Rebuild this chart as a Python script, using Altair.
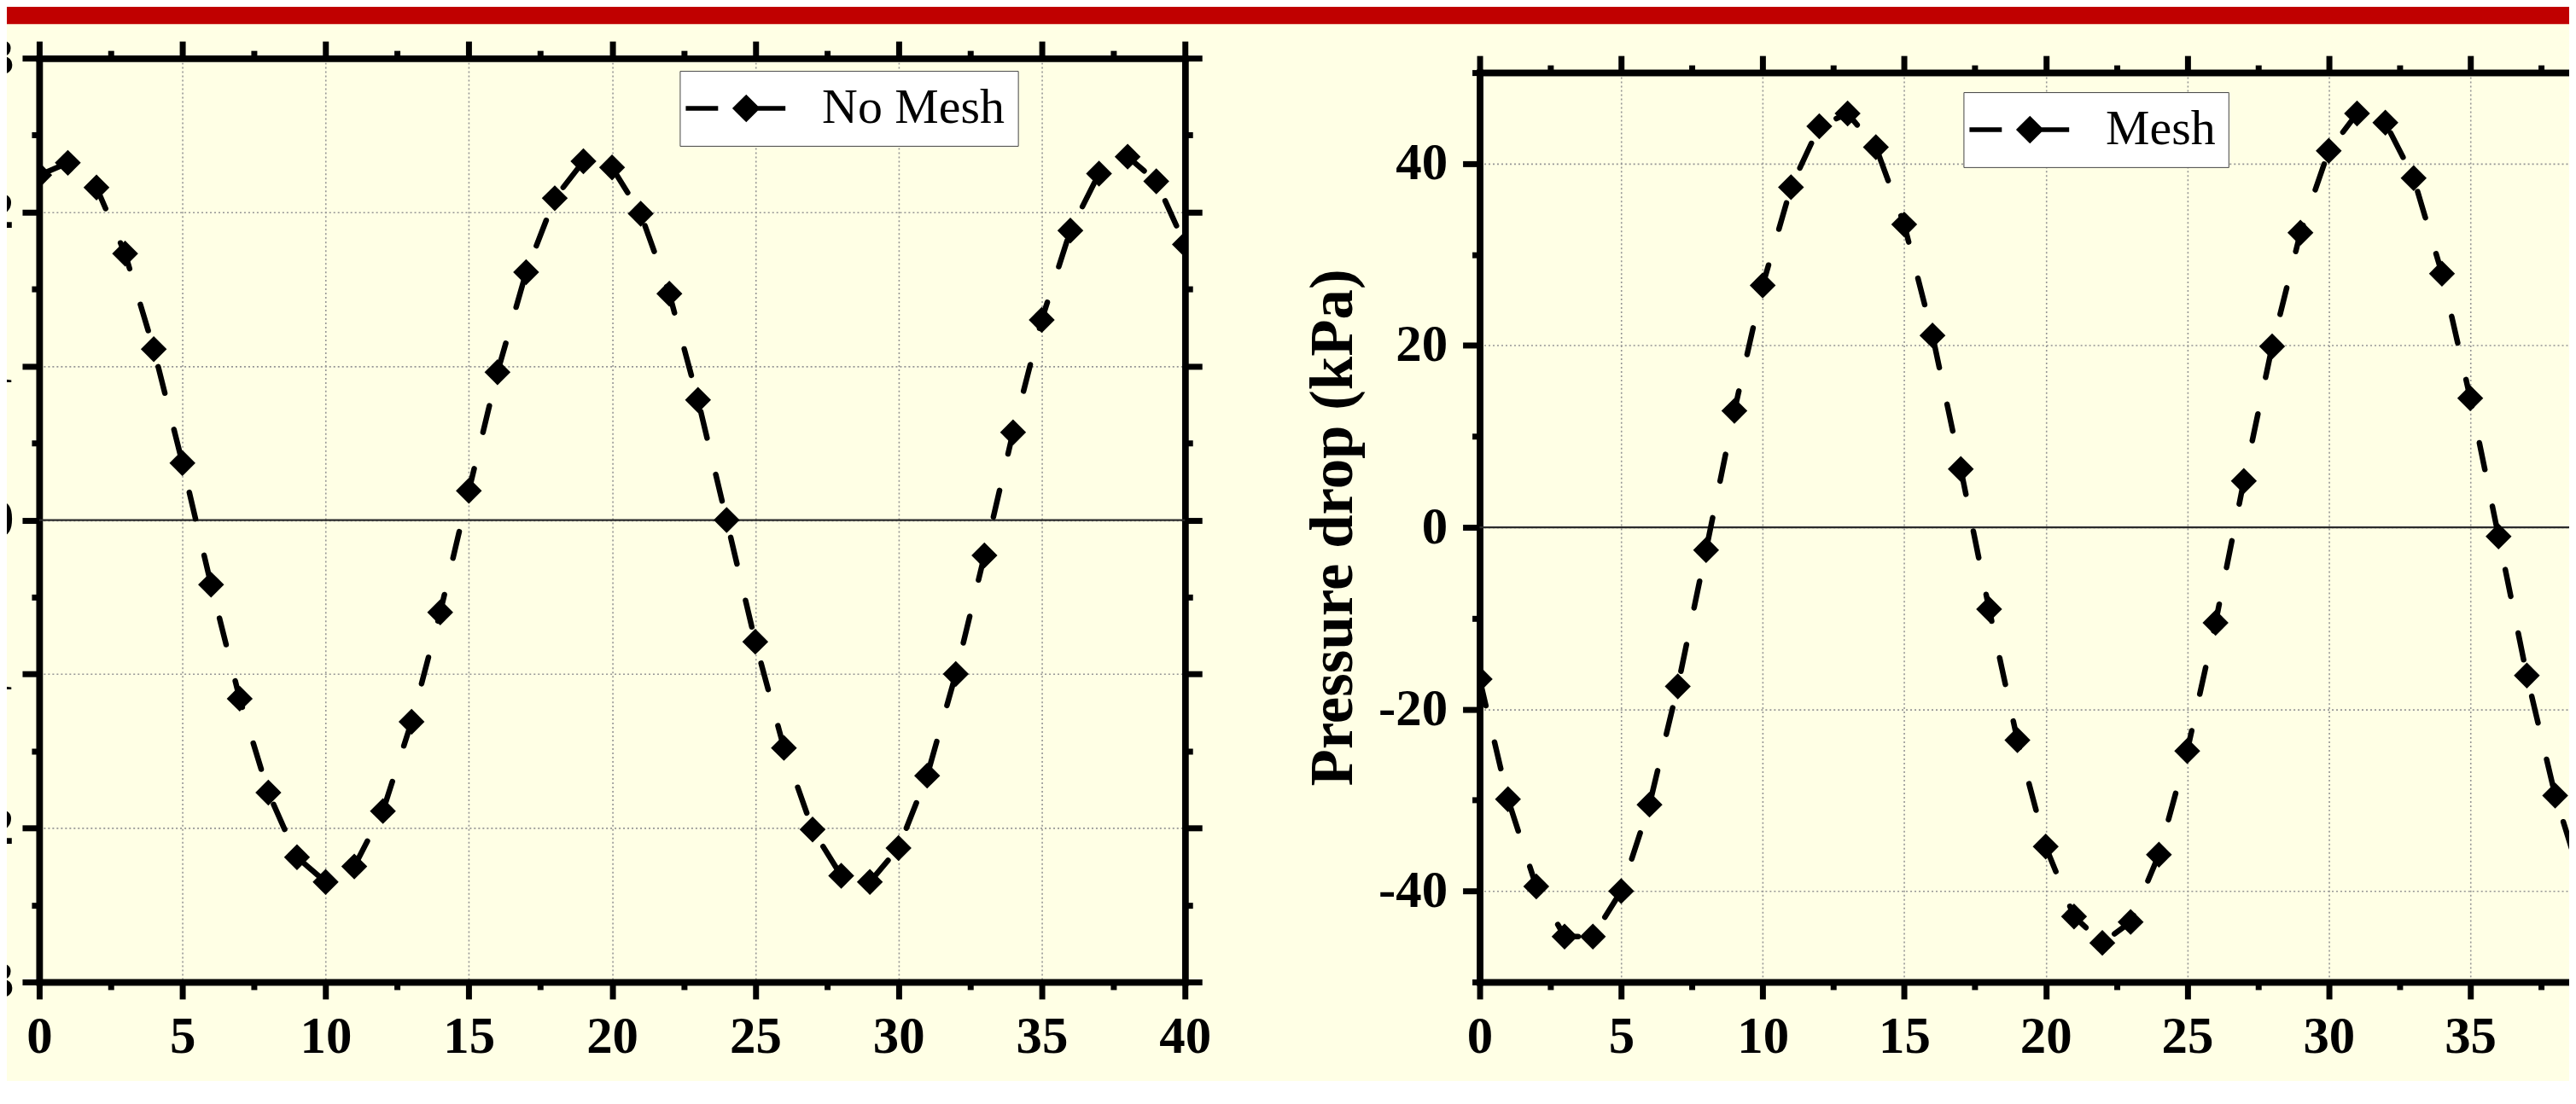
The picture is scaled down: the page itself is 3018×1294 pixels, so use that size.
import altair as alt
import pandas as pd

# ---------------- data ----------------
time_s = list(range(41))
no_mesh = [2.24, 2.32, 2.16, 1.73, 1.11, 0.37, -0.42, -1.16, -1.77, -2.19,
           -2.35, -2.25, -1.89, -1.31, -0.60, 0.19, 0.96, 1.61, 2.09, 2.33,
           2.29, 1.99, 1.47, 0.78, 0.00, -0.79, -1.48, -2.01, -2.31, -2.35,
           -2.13, -1.66, -1.00, -0.23, 0.57, 1.30, 1.88, 2.25, 2.36, 2.20, 1.79]
mesh = [-16.7, -29.9, -39.5, -45.0, -45.0, -40.0, -30.5, -17.5, -2.5, 12.8,
        26.6, 37.4, 44.1, 45.5, 41.8, 33.3, 21.1, 6.4, -9.0, -23.4,
        -35.1, -42.8, -45.7, -43.4, -36.0, -24.6, -10.5, 5.1, 19.9, 32.4,
        41.4, 45.5, 44.5, 38.4, 27.9, 14.2, -1.0, -16.3, -29.5, -39.5, -45.0]

series_left = "No Mesh"
series_right = "Mesh"
y_title_right = "Pressure drop (kPa)"

x_major = [0, 5, 10, 15, 20, 25, 30, 35, 40]
x_minor = [2.5, 7.5, 12.5, 17.5, 22.5, 27.5, 32.5, 37.5]
left_y_major = [-3, -2, -1, 0, 1, 2, 3]
left_y_minor = [-2.5, -1.5, -0.5, 0.5, 1.5, 2.5]
right_y_major = [-40, -20, 0, 20, 40]
right_y_minor = [-50, -30, -10, 10, 30, 50]

df_left = pd.DataFrame({"t": time_s, "v": no_mesh, "series": series_left})
df_right = pd.DataFrame({"t": time_s, "v": mesh, "series": series_right})
df_zero = pd.DataFrame({"v": [0]})
df_dummy = pd.DataFrame({"a": [0]})

FONT = "Liberation Serif"
BG = "#FFFFE5"
SYMBOL = "M-5.46,0L-2.54,0M-0.96,0L0,-0.96L0.96,0L0,0.96ZM0.96,0L3.54,0"


def make_axis(orient, values, size, labels=False, grid=False, **kw):
    d = dict(orient=orient, values=values, tickSize=size, tickWidth=7,
             tickColor="black", domain=True, domainColor="black",
             domainWidth=7.5, domainCap="square", labels=labels, grid=grid,
             ticks=True, title=None)
    if labels:
        d.update(labelFont=FONT, labelFontSize=61, labelFontWeight="bold",
                 labelColor="black", labelFlush=False, labelOverlap=False,
                 labelExpr="datum.value + ''")
    if grid:
        d.update(gridColor="#959595", gridDash=[2, 3], gridWidth=1.6)
    d.update(kw)
    return alt.Axis(**d)


def panel(df, ydom, ymaj, ymin, w, h, lx, ly, ylabpad, ytitle=None, red_bar=False):
    xs = alt.Scale(domain=[0, 40], nice=False, zero=False)
    ys = alt.Scale(domain=ydom, nice=False, zero=False)
    base = alt.Chart(df)

    def enc(xa, ya):
        return dict(x=alt.X("t:Q", scale=xs, axis=xa),
                    y=alt.Y("v:Q", scale=ys, axis=ya))

    ykw = {}
    if ytitle:
        ykw = dict(title=ytitle, titleFont=FONT, titleFontSize=71,
                   titleFontWeight="bold", titleColor="black", titleAngle=270,
                   titleX=-150, titleY=h / 2, titleAlign="center",
                   titleBaseline="alphabetic")

    main_axes = enc(make_axis("bottom", x_major, 20, labels=True, grid=True, labelPadding=15),
                    make_axis("left", ymaj, 20, labels=True, grid=True,
                              labelPadding=ylabpad, **ykw))
    minor_bl = enc(make_axis("bottom", x_minor, 9), make_axis("left", ymin, 9))
    major_tr = enc(make_axis("top", x_major, 20), make_axis("right", ymaj, 20))
    minor_tr = enc(make_axis("top", x_minor, 9), make_axis("right", ymin, 9))

    l_axes = base.mark_point(opacity=0).encode(**main_axes)
    l_bl = base.mark_point(opacity=0).encode(**minor_bl)
    l_tr = base.mark_point(opacity=0).encode(**major_tr)
    l_trm = base.mark_point(opacity=0).encode(**minor_tr)

    zero = alt.Chart(df_zero).mark_rule(color="#2a2a2a", strokeWidth=2.2).encode(
        y=alt.Y("v:Q", scale=ys, axis=None))

    line = base.mark_line(color="black", strokeWidth=6.5, strokeDash=[32, 44],
                          strokeCap="round", clip=True).encode(
        x=alt.X("t:Q", scale=xs, axis=None), y=alt.Y("v:Q", scale=ys, axis=None))

    pts = base.mark_point(shape="diamond", filled=True, size=930, opacity=1,
                          strokeWidth=5.5, clip=True).encode(
        x=alt.X("t:Q", scale=xs, axis=None),
        y=alt.Y("v:Q", scale=ys, axis=None),
        color=alt.Color("series:N", scale=alt.Scale(range=["black"]),
                        legend=alt.Legend(orient="none", legendX=lx, legendY=ly,
                                          title=None, fillColor="white",
                                          strokeColor="#444", padding=15,
                                          symbolType=SYMBOL, symbolSize=676,
                                          symbolStrokeWidth=5.5,
                                          symbolFillColor="black",
                                          symbolStrokeColor="black",
                                          symbolOffset=34, labelOffset=60,
                                          labelFont=FONT, labelFontSize=58,
                                          labelColor="black", labelLimit=0)))

    layers = []
    if red_bar:
        layers.append(alt.Chart(df_dummy).mark_rect(color="#C00000").encode(
            x=alt.value(-200), x2=alt.value(3100),
            y=alt.value(-67), y2=alt.value(-40)))
    layers += [l_axes, l_bl, l_tr, l_trm, zero, line, pts]
    return alt.layer(*layers).resolve_axis(x="independent", y="independent").properties(
        width=w, height=h)


left = panel(df_left, [-3, 3], left_y_major, left_y_minor, 1345, 1085, 752, 15, 10,
             red_bar=True)
right = panel(df_right, [-50, 50], right_y_major, right_y_minor, 1329, 1068, 568, 23, 18,
              ytitle=y_title_right)

spacer = alt.Chart(df_dummy).mark_point(opacity=0).encode(
    x=alt.value(0), y=alt.value(0)).properties(width=1329, height=17)

right_col = alt.vconcat(spacer, right, spacing=0, bounds="flush").resolve_scale(
    color="independent").resolve_legend(color="independent")

chart = alt.hconcat(left, right_col, spacing=346, bounds="flush").resolve_scale(
    x="independent", y="independent", color="independent").resolve_legend(
    color="independent").properties(
    padding={"left": -162, "top": -8, "right": -130, "bottom": 20},
    background=BG).configure_view(stroke=None)

chart.save("out.html", embed_options={"renderer": "svg", "actions": False})
